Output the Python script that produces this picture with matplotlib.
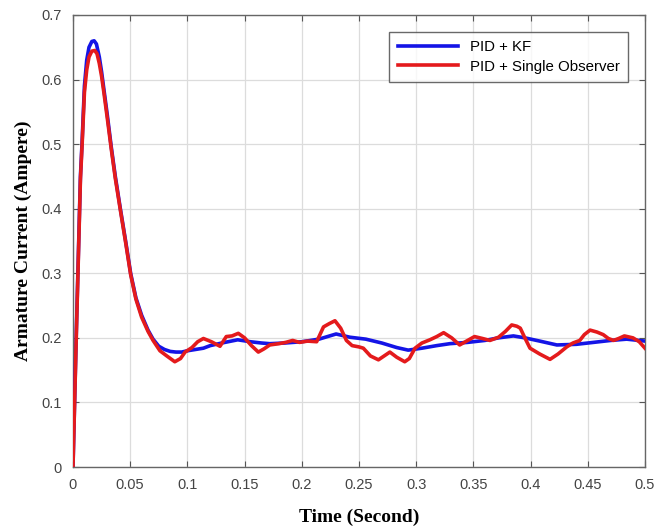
import matplotlib
matplotlib.use("Agg")
import matplotlib.pyplot as plt

# PID + KF (blue)
T_KF = [0.000, 0.003, 0.0065, 0.008, 0.010, 0.012, 0.014, 0.0165, 0.0185, 0.0205,
        0.023, 0.025, 0.027, 0.030, 0.0335, 0.037, 0.0414, 0.046, 0.0504, 0.055,
        0.060, 0.0656, 0.070, 0.075, 0.080, 0.085, 0.090, 0.095, 0.100, 0.107,
        0.114, 0.120, 0.130, 0.144, 0.155, 0.165, 0.172, 0.185, 0.200, 0.215,
        0.230, 0.242, 0.256, 0.270, 0.283, 0.293, 0.305, 0.318, 0.3295, 0.345,
        0.360, 0.372, 0.385, 0.395, 0.408, 0.423, 0.440, 0.455, 0.470, 0.484, 0.500]
I_KF = [0.000, 0.215, 0.450, 0.505, 0.590, 0.630, 0.650, 0.659, 0.660, 0.655,
        0.635, 0.612, 0.585, 0.545, 0.495, 0.450, 0.400, 0.350, 0.300, 0.262,
        0.235, 0.212, 0.198, 0.187, 0.182, 0.179, 0.178, 0.178, 0.180, 0.182,
        0.184, 0.188, 0.192, 0.197, 0.194, 0.192, 0.191, 0.192, 0.194, 0.198,
        0.206, 0.201, 0.198, 0.192, 0.185, 0.181, 0.184, 0.188, 0.191, 0.193,
        0.196, 0.200, 0.203, 0.200, 0.195, 0.189, 0.190, 0.193, 0.196, 0.198, 0.195]

# PID + Single Observer (red)
T_SO = [0.000, 0.003, 0.0065, 0.008, 0.010, 0.012, 0.014, 0.0165, 0.019, 0.021,
        0.023, 0.025, 0.027, 0.030, 0.0335, 0.037, 0.0414, 0.046, 0.0504, 0.055,
        0.060, 0.0656, 0.070, 0.076, 0.082, 0.089, 0.094, 0.098, 0.104, 0.109,
        0.114, 0.121, 0.1285, 0.134, 0.139, 0.1445, 0.150, 0.156, 0.162, 0.167,
        0.172, 0.180, 0.186, 0.192, 0.198, 0.205, 0.213, 0.219, 0.224, 0.229,
        0.234, 0.239, 0.244, 0.250, 0.2538, 0.260, 0.267, 0.272, 0.277, 0.283,
        0.290, 0.294, 0.299, 0.305, 0.312, 0.318, 0.324, 0.331, 0.338, 0.345,
        0.351, 0.358, 0.3645, 0.372, 0.378, 0.3835, 0.388, 0.391, 0.395, 0.3995,
        0.408, 0.417, 0.424, 0.4316, 0.437, 0.443, 0.447, 0.452, 0.458, 0.4635,
        0.468, 0.4725, 0.477, 0.482, 0.4895, 0.495, 0.500]
I_SO = [0.000, 0.210, 0.445, 0.500, 0.580, 0.615, 0.635, 0.644, 0.645, 0.640,
        0.625, 0.605, 0.580, 0.540, 0.492, 0.447, 0.398, 0.348, 0.298, 0.260,
        0.232, 0.210, 0.196, 0.180, 0.172, 0.163, 0.168, 0.178, 0.185, 0.194,
        0.199, 0.194, 0.187, 0.202, 0.203, 0.207, 0.200, 0.188, 0.178, 0.183,
        0.189, 0.191, 0.193, 0.196, 0.193, 0.195, 0.194, 0.217, 0.222, 0.2265,
        0.215, 0.196, 0.188, 0.186, 0.184, 0.172, 0.166, 0.172, 0.178, 0.170,
        0.163, 0.168, 0.184, 0.192, 0.197, 0.202, 0.208, 0.200, 0.189, 0.196,
        0.202, 0.199, 0.196, 0.201, 0.210, 0.220, 0.218, 0.215, 0.200, 0.184,
        0.175, 0.1667, 0.175, 0.186, 0.192, 0.196, 0.205, 0.212, 0.209, 0.205,
        0.199, 0.196, 0.199, 0.203, 0.200, 0.194, 0.184]

X_TICKS = [0, 0.05, 0.1, 0.15, 0.2, 0.25, 0.3, 0.35, 0.4, 0.45, 0.5]
X_TICK_LABELS = ["0", "0.05", "0.1", "0.15", "0.2", "0.25", "0.3", "0.35", "0.4", "0.45", "0.5"]
Y_TICKS = [0, 0.1, 0.2, 0.3, 0.4, 0.5, 0.6, 0.7]
Y_TICK_LABELS = ["0", "0.1", "0.2", "0.3", "0.4", "0.5", "0.6", "0.7"]

fig = plt.figure(figsize=(6.54, 5.31), dpi=100)
ax = fig.add_axes([0.1116, 0.1205, 0.8746, 0.8513])

ax.plot(T_KF, I_KF, color="#1414e6", linewidth=2.6, label="PID + KF", zorder=3)
ax.plot(T_SO, I_SO, color="#e41a1c", linewidth=2.6, label="PID + Single Observer", zorder=4)

ax.set_xlim(0, 0.5)
ax.set_ylim(0, 0.7)
ax.set_xticks(X_TICKS)
ax.set_xticklabels(X_TICK_LABELS)
ax.set_yticks(Y_TICKS)
ax.set_yticklabels(Y_TICK_LABELS)
ax.grid(True, color="#dcdcdc", linewidth=0.9)
ax.set_axisbelow(True)
ax.tick_params(direction="in", length=4, width=0.8, top=True, right=True,
               colors="#555555", labelcolor="#444444", labelsize=10.5, pad=8)
for lab in ax.get_xticklabels() + ax.get_yticklabels():
    lab.set_family("Liberation Sans")
for sp in ax.spines.values():
    sp.set_color("#666666")
    sp.set_linewidth(1.0)

ax.set_xlabel("Time (Second)", family="Liberation Serif", fontweight="bold",
              fontsize=14, labelpad=12)
ax.set_ylabel("Armature Current (Ampere)", family="Liberation Serif", fontweight="bold",
              fontsize=14, labelpad=7)

leg = ax.legend(loc="upper right", bbox_to_anchor=(0.970, 0.962), borderaxespad=0,
                fancybox=False, handlelength=4.0, prop={"family": "Liberation Sans", "size": 10.8},
                labelspacing=0.35, borderpad=0.55)
leg.get_frame().set_edgecolor("#444444")
leg.get_frame().set_linewidth(1.0)

fig.savefig("out.png", dpi=100)
